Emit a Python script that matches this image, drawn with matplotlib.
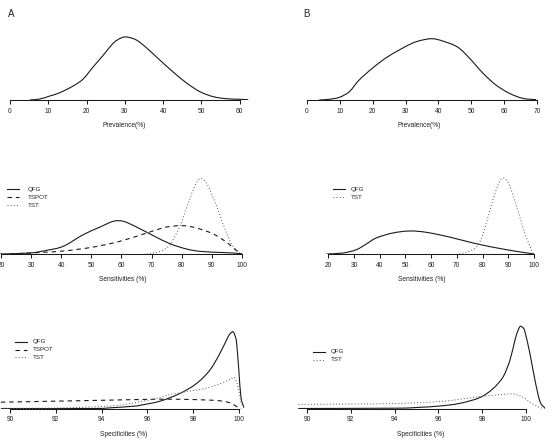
import matplotlib
matplotlib.use("Agg")
import matplotlib.pyplot as plt
from matplotlib.path import Path
from matplotlib.patches import PathPatch

W, H, DPI = 552, 446, 100

# ---- data: density curves (relative heights) ----
# A, prevalence
prevA_x = [5.2, 7.8, 10.4, 13.0, 16.5, 19.1, 21.7, 24.4, 27.0, 29.0, 30.5, 33.0, 35.7,
           39.1, 42.6, 46.1, 49.6, 53.1, 56.5, 60.0, 62.2]
prevA_y = [0, 1, 4, 7.3, 14, 21, 33, 45, 57, 62, 63, 60, 52, 40, 28, 17, 8.3, 3.3, 1.3, 0.7, 0.3]
# B, prevalence
prevB_x = [3.8, 6.8, 9.9, 12.9, 15.9, 20.0, 24.0, 28.1, 32.2, 35.2, 38.2, 41.3, 45.8,
           49.4, 53.5, 57.5, 61.6, 65.6, 69.7]
prevB_y = [0, 0.7, 2.7, 8.3, 20, 32, 42, 50, 57, 60, 61.3, 59, 53, 42, 27, 15, 6.7, 1.7, 0.3]

# A, sensitivities
sensA_qfg_x = [19.7, 29.6, 35.2, 40.7, 47.3, 52.9, 57.3, 60.6, 65.0, 70.6, 76.1, 81.6, 86.0, 91.6, 97.1, 100]
sensA_qfg_y = [0, 1, 3.7, 7.7, 19.3, 27, 32.7, 32.7, 27, 18.3, 10.3, 5, 2.7, 1.7, 1, 0]
sensA_tspot_x = [23, 34.1, 41.8, 50.7, 59.5, 68.4, 75.0, 80.5, 84.9, 90.5, 94.9, 98.2, 100]
sensA_tspot_y = [0, 1.7, 3.3, 7, 12.7, 21, 27, 28.3, 26, 20, 11.7, 3.3, 0]
sensA_tst_x = [68.4, 72.8, 76.1, 79.4, 81.1, 82.8, 84.5, 86.1, 87.5, 88.8, 90.2, 91.6, 93.2, 94.9, 96.5, 98.2, 99.8]
sensA_tst_y = [0, 2.7, 9.3, 27.7, 42, 56, 69, 75.3, 73.5, 67.7, 58, 47.7, 34, 21, 10, 4.3, 0]

# B, sensitivities
sensB_qfg_x = [19.2, 25.7, 30.9, 34.8, 38.6, 45.1, 51.6, 58.1, 67.1, 77.5, 87.8, 95.6, 100.1]
sensB_qfg_y = [0, 1, 4.3, 10, 16, 21, 23, 21.7, 17, 10.3, 5, 1.7, 0]
sensB_tst_x = [71.0, 76.2, 79.4, 82.6, 84.2, 85.9, 87.0, 88.2, 89.4, 90.4, 92.0, 93.7, 95.3, 96.9, 99.5, 100.1]
sensB_tst_y = [0, 4.3, 14.3, 41, 56, 67.7, 74, 76, 73.5, 69.3, 58, 44.3, 30, 17.7, 1.7, 0]

# A, specificities
specA_qfg_x = [89.6, 93.6, 94.4, 95.4, 95.7, 96.55, 97.42, 98.15, 98.73, 99.17, 99.53,
               99.65, 99.75, 99.83, 99.9, 100.0, 100.09, 100.22]
specA_qfg_y = [0, 0, 0.7, 2.3, 3.3, 7.3, 15, 25, 38.3, 55, 71.7, 75.5, 76.7, 73, 66, 38, 11.7, 1]
specA_tspot_x = [89.6, 91.9, 94.2, 95.68, 97.13, 98.59, 99.31, 99.68, 99.97, 100.1]
specA_tspot_y = [6.3, 7.3, 8.3, 9, 9.3, 8.5, 7.3, 5, 1, 0]
specA_tst_x = [89.6, 92.0, 94.0, 95.0, 95.7, 96.4, 97.1, 98.15, 98.6, 99.03, 99.6, 99.8,
               99.97, 100.09, 100.22]
specA_tst_y = [0, 0.5, 2, 4, 7, 10, 14.5, 18.5, 20.5, 23.5, 29, 31, 21.7, 6.7, 1]

# B, specificities
specB_qfg_x = [89.6, 94.0, 95.0, 96.07, 96.99, 97.9, 98.5, 98.96, 99.27, 99.5, 99.62,
               99.73, 99.85, 99.95, 100.18, 100.41, 100.64, 100.87]
specB_qfg_y = [0, 0.3, 1, 2.5, 5.2, 11, 20, 31.8, 48.5, 68.5, 77, 82, 81, 77, 55, 28.5, 7, 0.5]
specB_tst_x = [89.6, 92.0, 94.0, 96.07, 97.6, 98.66, 99.42, 99.88, 100.26, 100.64, 100.87]
specB_tst_y = [4, 4.5, 5, 7, 11, 13.5, 14.5, 11, 5, 1, 0]

styles = {"QFG": ("-", "#1a1a1a", 0.8),
          "TSPOT": ((0, (4, 3.5)), "#1a1a1a", 0.8),
          "TST": ((0, (1, 2)), "#666666", 0.75)}
INK = "#1a1a1a"
TXT = "#222222"

plt.rcParams['font.family'] = ['Liberation Sans', 'DejaVu Sans']

fig = plt.figure(figsize=(W / DPI, H / DPI), dpi=DPI)


def panel(left, right, base, top, xlim, ymax, ticks, label):
    ax = fig.add_axes([left / W, 1 - base / H, (right - left) / W, (base - top) / H])
    ax.patch.set_visible(False)
    ax.set_xlim(*xlim)
    ax.set_ylim(0, ymax)
    ax.axhline(0, color="#a0a0a0", lw=0.75, zorder=1)
    for s in ["top", "right", "left"]:
        ax.spines[s].set_visible(False)
    ax.spines["bottom"].set_bounds(ticks[0], ticks[-1])
    ax.spines["bottom"].set_linewidth(0.75)
    ax.spines["bottom"].set_color(INK)
    ax.spines["bottom"].set_zorder(2)
    ax.set_yticks([])
    ax.set_xticks(ticks)
    ax.set_xticklabels([str(t) for t in ticks])
    ax.tick_params(axis="x", direction="out", length=2.9, width=0.75, pad=2.6,
                   labelsize=4.8, color=INK, labelcolor=TXT)
    ax.set_xlabel(label, fontsize=4.8, labelpad=5.5, color=TXT)
    return ax


def curve(ax, x, y, name):
    # smooth line through the read points (Catmull-Rom segments as cubic Beziers)
    ls, col, lw = styles[name]
    n = len(x)
    verts = [(x[0], y[0])]
    codes = [Path.MOVETO]
    for i in range(n - 1):
        i0, i3 = max(i - 1, 0), min(i + 2, n - 1)
        c1 = (x[i] + (x[i + 1] - x[i0]) / 6, y[i] + (y[i + 1] - y[i0]) / 6)
        c2 = (x[i + 1] - (x[i3] - x[i]) / 6, y[i + 1] - (y[i3] - y[i]) / 6)
        verts += [c1, c2, (x[i + 1], y[i + 1])]
        codes += [Path.CURVE4] * 3
    ax.add_patch(PathPatch(Path(verts, codes), fill=False, edgecolor=col,
                           lw=lw, linestyle=ls, zorder=3))


# top row: prevalence
axA1 = panel(0, 249, 100, 30, (-2.6, 62.4), 70, list(range(0, 61, 10)), "Prevalence(%)")
curve(axA1, prevA_x, prevA_y, "QFG")
axB1 = panel(298, 540, 100, 30, (-2.7, 70.9), 70, list(range(0, 71, 10)), "Prevalence(%)")
curve(axB1, prevB_x, prevB_y, "QFG")

# middle row: sensitivities
axA2 = panel(0, 245, 254, 170, (19.7, 101.0), 84, list(range(20, 101, 10)), "Sensitivities (%)")
curve(axA2, sensA_qfg_x, sensA_qfg_y, "QFG")
curve(axA2, sensA_tspot_x, sensA_tspot_y, "TSPOT")
curve(axA2, sensA_tst_x, sensA_tst_y, "TST")
axB2 = panel(298, 546, 254, 170, (8.2, 104.7), 84, list(range(20, 101, 10)), "Sensitivities (%)")
curve(axB2, sensB_qfg_x, sensB_qfg_y, "QFG")
curve(axB2, sensB_tst_x, sensB_tst_y, "TST")

# bottom row: specificities
axA3 = panel(0, 248, 408.5, 320, (89.56, 100.4), 88.5, list(range(90, 101, 2)), "Specificities (%)")
curve(axA3, specA_qfg_x, specA_qfg_y, "QFG")
curve(axA3, specA_tspot_x, specA_tspot_y, "TSPOT")
curve(axA3, specA_tst_x, specA_tst_y, "TST")
axB3 = panel(297, 545, 408.5, 320, (89.54, 100.87), 88.5, list(range(90, 101, 2)), "Specificities (%)")
curve(axB3, specB_qfg_x, specB_qfg_y, "QFG")
curve(axB3, specB_tst_x, specB_tst_y, "TST")

# overlay for panel letters and legends (pixel coordinates)
ov = fig.add_axes([0, 0, 1, 1])
ov.set_xlim(0, W)
ov.set_ylim(H, 0)
ov.axis("off")
ov.patch.set_visible(False)

ov.text(7.5, 14, "A", fontsize=7, color=TXT, ha="left", va="center")
ov.text(303, 14, "B", fontsize=7, color=TXT, ha="left", va="center")


def legend(x0, x1, xt, y0, names, step=8):
    for i, n in enumerate(names):
        ls, col, lw = styles[n]
        y = y0 + i * step
        ov.plot([x0, x1], [y, y], color=col, lw=lw, linestyle=ls)
        ov.text(xt, y, n, fontsize=4.5, color=TXT, ha="left", va="center")


legend(7, 19, 28, 189.3, ["QFG", "TSPOT", "TST"])
legend(333, 345, 351, 189.3, ["QFG", "TST"])
legend(15, 27, 33, 341.7, ["QFG", "TSPOT", "TST"], step=7.8)
legend(313, 325, 331, 351.7, ["QFG", "TST"])

fig.savefig("out.png", dpi=DPI)
